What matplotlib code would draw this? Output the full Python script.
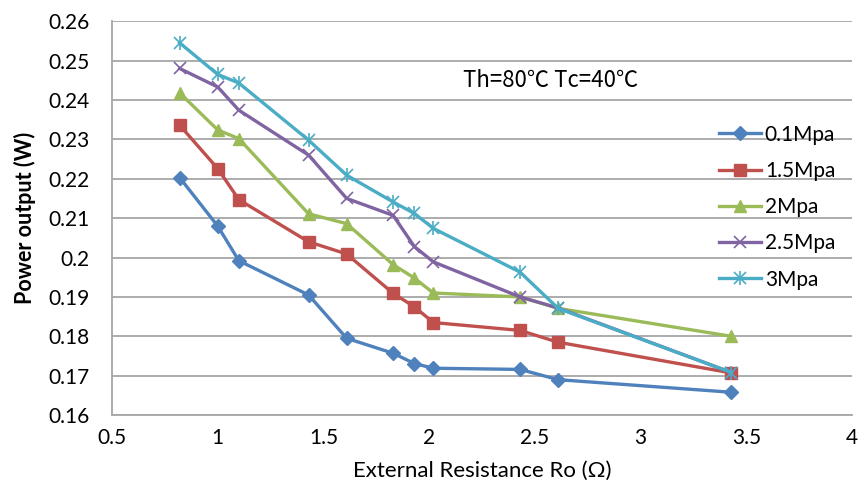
import matplotlib
matplotlib.use("Agg")
import matplotlib.pyplot as plt
from matplotlib.legend_handler import HandlerTuple

plt.rcParams["font.family"] = ["Lato", "DejaVu Sans"]

# External resistance (ohm), shared by all series
resistance = [0.82, 1.0, 1.1, 1.43, 1.61, 1.83, 1.93, 2.02, 2.43, 2.61, 3.43]

p_01 = [0.2203, 0.2080, 0.1992, 0.1905, 0.1795, 0.1757, 0.1731, 0.1719, 0.1716, 0.1690, 0.1658]
p_15 = [0.2336, 0.2226, 0.2147, 0.2040, 0.2009, 0.1909, 0.1875, 0.1835, 0.1815, 0.1785, 0.1707]
p_20 = [0.2418, 0.2324, 0.2302, 0.2111, 0.2086, 0.1982, 0.1948, 0.1910, 0.1900, 0.1871, 0.1800]
p_25 = [0.2480, 0.2433, 0.2374, 0.2260, 0.2150, 0.2107, 0.2028, 0.1989, 0.1900, 0.1872, 0.1708]
p_30 = [0.2545, 0.2465, 0.2443, 0.2298, 0.2209, 0.2141, 0.2112, 0.2074, 0.1963, 0.1871, 0.1708]

labels = ["0.1Mpa", "1.5Mpa", "2Mpa", "2.5Mpa", "3Mpa"]
colors = ["#4F81BD", "#C0504D", "#9BBB59", "#8064A2", "#4BACC6"]

fig = plt.figure(figsize=(8.58, 4.93), dpi=100)
ax = fig.add_axes([0.1305, 0.158, 0.8625, 0.799])

lw = 2.4
h1, = ax.plot(resistance, p_01, color=colors[0], lw=lw, marker="D", ms=7)
h2, = ax.plot(resistance, p_15, color=colors[1], lw=lw, marker="s", ms=8.5)
h3, = ax.plot(resistance, p_20, color=colors[2], lw=lw, marker="^", ms=9)
h4, = ax.plot(resistance, p_25, color=colors[3], lw=lw, marker="x", ms=8, mew=1.2)
h5, = ax.plot(resistance, p_30, color=colors[4], lw=lw, marker="x", ms=8, mew=1.2)
h5b, = ax.plot(resistance, p_30, color=colors[4], lw=0, marker="|", ms=10, mew=1.2)

ax.set_xlim(0.5, 4)
ax.set_ylim(0.16, 0.26)
ax.set_xticks([0.5, 1, 1.5, 2, 2.5, 3, 3.5, 4])
ax.set_xticklabels(["0.5", "1", "1.5", "2", "2.5", "3", "3.5", "4"])
ax.set_yticks([0.16, 0.17, 0.18, 0.19, 0.2, 0.21, 0.22, 0.23, 0.24, 0.25, 0.26])
ax.set_yticklabels(["0.16", "0.17", "0.18", "0.19", "0.2", "0.21", "0.22", "0.23",
                    "0.24", "0.25", "0.26"])
ax.tick_params(length=0, labelsize=15)
ax.tick_params(axis="x", pad=9)
ax.tick_params(axis="y", pad=16)
ax.yaxis.grid(True, color="#A6A6A6", lw=1.3)
ax.set_axisbelow(True)
for side in ("top", "right"):
    ax.spines[side].set_visible(False)
for side in ("left", "bottom"):
    ax.spines[side].set_color("#A6A6A6")
    ax.spines[side].set_linewidth(1.3)

ax.set_xlabel("External Resistance Ro (Ω)", fontsize=16)
ax.set_ylabel("Power output (W)", fontsize=15.5, fontweight="bold")
ax.xaxis.set_label_coords(0.5, -0.115)
ax.yaxis.set_label_coords(-0.102, 0.5)

ax.text(0.475, 0.85, "Th=80℃ Tc=40℃", transform=ax.transAxes, fontsize=16,
        family=["Noto Sans CJK SC", "DejaVu Sans"], va="center", ha="left")

ax.legend([h1, h2, h3, h4, (h5, h5b)], labels, loc="upper left",
          bbox_to_anchor=(0.795, 0.785), frameon=False, fontsize=15,
          handlelength=2.0, handletextpad=0.2, labelspacing=0.78,
          handler_map={tuple: HandlerTuple(ndivide=1)})

fig.savefig("out.png", dpi=100)
